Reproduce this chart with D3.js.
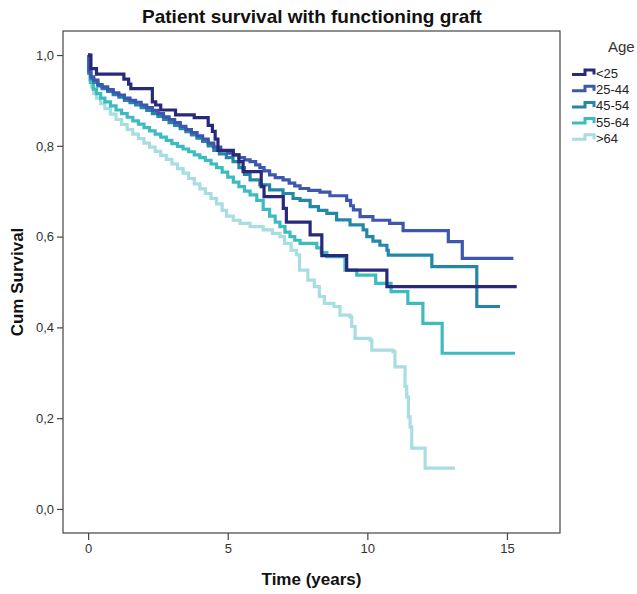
<!DOCTYPE html>
<html>
<head>
<meta charset="utf-8">
<script src="https://cdn.jsdelivr.net/npm/d3@7"></script>
<style>
  html, body { margin: 0; padding: 0; background: #fff; }
  svg { display: block; font-family: "Liberation Sans", Arial, sans-serif; }
</style>
</head>
<body>
<svg id="chart" width="637" height="594"></svg>
<script>
// Kaplan-Meier estimates by age group: [time in years, cumulative survival]
const survivalLt25 = [
  [0, 1.0], [0.1, 0.97], [0.3, 0.958], [1.28, 0.947], [1.45, 0.936], [1.53, 0.926],
  [2.3, 0.897], [2.42, 0.89], [2.6, 0.879], [3.13, 0.868], [3.8, 0.862], [4.3, 0.845],
  [4.45, 0.832], [4.55, 0.815], [4.65, 0.79], [5.2, 0.78], [5.4, 0.765], [5.55, 0.743],
  [6.2, 0.71], [6.3, 0.688], [6.99, 0.662], [7.1, 0.632], [7.95, 0.604], [8.37, 0.558],
  [9.26, 0.526], [10.7, 0.49], [15.35, 0.49]
];
const survival25to44 = [
  [0, 1.0], [0.03, 0.965], [0.1, 0.952], [0.2, 0.945], [0.35, 0.935], [0.5, 0.93], [0.7, 0.924],
  [0.9, 0.917], [1.1, 0.912], [1.3, 0.905], [1.5, 0.9], [1.7, 0.896], [1.9, 0.89], [2.1, 0.884],
  [2.3, 0.878], [2.5, 0.871], [2.7, 0.864], [2.9, 0.858], [3.1, 0.851], [3.3, 0.843], [3.5, 0.836],
  [3.7, 0.829], [3.9, 0.822], [4.1, 0.815], [4.3, 0.806], [4.5, 0.797], [4.75, 0.789], [5.0, 0.784],
  [5.19, 0.78], [5.4, 0.774], [5.6, 0.769], [5.8, 0.765], [6.0, 0.758], [6.15, 0.752], [6.3, 0.745],
  [6.5, 0.736], [6.7, 0.73], [6.98, 0.725], [7.2, 0.718], [7.4, 0.712], [7.59, 0.706], [7.9, 0.702],
  [8.3, 0.698], [8.66, 0.69], [9.26, 0.68], [9.4, 0.668], [9.5, 0.659], [9.74, 0.644], [10.2, 0.636],
  [10.8, 0.629], [11.28, 0.613], [12.9, 0.589], [13.4, 0.552], [15.23, 0.552]
];
const survival45to54 = [
  [0, 1.0], [0.03, 0.96], [0.1, 0.948], [0.2, 0.94], [0.35, 0.932], [0.5, 0.926], [0.7, 0.92],
  [0.9, 0.913], [1.1, 0.907], [1.3, 0.9], [1.5, 0.895], [1.7, 0.89], [1.9, 0.884], [2.1, 0.878],
  [2.3, 0.871], [2.5, 0.865], [2.7, 0.858], [2.9, 0.851], [3.1, 0.845], [3.3, 0.838], [3.5, 0.831],
  [3.7, 0.824], [3.9, 0.817], [4.1, 0.81], [4.3, 0.8], [4.5, 0.79], [4.7, 0.782], [4.95, 0.774],
  [5.19, 0.765], [5.4, 0.752], [5.6, 0.737], [5.8, 0.725], [6.15, 0.714], [6.5, 0.703], [6.98, 0.695],
  [7.34, 0.684], [7.59, 0.68], [7.95, 0.666], [8.25, 0.658], [8.55, 0.651], [8.9, 0.637], [9.38, 0.626],
  [9.85, 0.615], [9.98, 0.6], [10.2, 0.59], [10.45, 0.581], [10.7, 0.57], [10.75, 0.559],
  [12.31, 0.534], [13.92, 0.446], [14.75, 0.446]
];
const survival55to64 = [
  [0, 1.0], [0.02, 0.96], [0.08, 0.94], [0.18, 0.925], [0.3, 0.915], [0.45, 0.905], [0.6, 0.897],
  [0.8, 0.888], [1.0, 0.879], [1.2, 0.871], [1.4, 0.863], [1.6, 0.855], [1.8, 0.848], [2.0, 0.84],
  [2.2, 0.833], [2.4, 0.826], [2.6, 0.819], [2.8, 0.812], [3.0, 0.805], [3.2, 0.799], [3.4, 0.793],
  [3.6, 0.787], [3.8, 0.78], [4.0, 0.774], [4.2, 0.768], [4.4, 0.76], [4.6, 0.752], [4.8, 0.742],
  [5.0, 0.731], [5.2, 0.72], [5.4, 0.71], [5.6, 0.7], [5.8, 0.692], [6.04, 0.68], [6.27, 0.66],
  [6.5, 0.645], [6.7, 0.632], [6.87, 0.622], [7.05, 0.61], [7.23, 0.6], [7.4, 0.592], [7.59, 0.585],
  [8.19, 0.575], [8.35, 0.565], [8.55, 0.556], [9.2, 0.526], [9.62, 0.515], [10.3, 0.497],
  [10.85, 0.479], [11.45, 0.453], [11.99, 0.409], [12.68, 0.343], [15.29, 0.343]
];
const survivalGt64 = [
  [0, 1.0], [0.02, 0.97], [0.06, 0.945], [0.12, 0.93], [0.2, 0.915], [0.3, 0.905], [0.45, 0.893],
  [0.6, 0.882], [0.8, 0.87], [1.0, 0.858], [1.2, 0.847], [1.4, 0.836], [1.6, 0.826], [1.8, 0.816],
  [2.0, 0.806], [2.2, 0.797], [2.4, 0.788], [2.6, 0.779], [2.8, 0.77], [3.0, 0.76], [3.2, 0.75],
  [3.4, 0.74], [3.6, 0.728], [3.8, 0.716], [4.0, 0.705], [4.2, 0.695], [4.4, 0.684], [4.6, 0.672],
  [4.8, 0.658], [4.96, 0.645], [5.2, 0.636], [5.44, 0.629], [5.8, 0.622], [6.27, 0.615], [6.6, 0.607],
  [6.87, 0.6], [7.03, 0.585], [7.27, 0.57], [7.46, 0.56], [7.57, 0.526], [7.87, 0.504], [8.1, 0.49],
  [8.28, 0.468], [8.46, 0.453], [8.8, 0.446], [9.02, 0.427], [9.38, 0.423], [9.44, 0.402],
  [9.56, 0.376], [10.1, 0.372], [10.16, 0.35], [10.92, 0.346], [10.99, 0.313], [11.35, 0.27],
  [11.41, 0.247], [11.47, 0.203], [11.53, 0.181], [11.59, 0.134], [12.07, 0.09], [13.14, 0.09]
];

const groupLabels = ["<25", "25-44", "45-54", "55-64", ">64"];
const groupColors = ["#28297a", "#3d56ae", "#2587a8", "#3dbcbf", "#a8dde2"];
const groupSeries = [survivalLt25, survival25to44, survival45to54, survival55to64, survivalGt64];

const xTicks = [0, 5, 10, 15];
const yTicks = [0, 0.2, 0.4, 0.6, 0.8, 1.0];

const svg = d3.select("#chart");
const plot = { left: 63, right: 560, top: 31, bottom: 533 };

const x = d3.scaleLinear().domain([-0.9, 16.9]).range([plot.left, plot.right]);
const y = d3.scaleLinear().domain([-0.053, 1.053]).range([plot.bottom, plot.top]);

// Title
svg.append("text")
  .attr("x", 312).attr("y", 23)
  .attr("text-anchor", "middle")
  .attr("font-size", 19).attr("font-weight", "bold").attr("fill", "#111")
  .text("Patient survival with functioning graft");

// Axes
const commaFmt = d => d3.format(".1f")(d).replace(".", ",");
const yAxis = svg.append("g")
  .attr("transform", `translate(${plot.left},0)`)
  .call(d3.axisLeft(y).tickValues(yTicks).tickFormat(commaFmt).tickSize(6).tickPadding(3));
const xAxis = svg.append("g")
  .attr("transform", `translate(0,${plot.bottom})`)
  .call(d3.axisBottom(x).tickValues(xTicks).tickSize(7).tickPadding(4));
[yAxis, xAxis].forEach(g => {
  g.select(".domain").remove();
  g.selectAll(".tick line").attr("stroke", "#444").attr("stroke-width", 1.2);
  g.selectAll(".tick text").attr("font-size", 13).attr("fill", "#333")
    .attr("font-family", "'Liberation Sans', Arial, sans-serif");
});

// Axis titles
svg.append("text")
  .attr("transform", `translate(23,${(plot.top + plot.bottom) / 2}) rotate(-90)`)
  .attr("text-anchor", "middle")
  .attr("font-size", 17).attr("font-weight", "bold").attr("fill", "#111")
  .text("Cum Survival");
svg.append("text")
  .attr("x", (plot.left + plot.right) / 2).attr("y", 585)
  .attr("text-anchor", "middle")
  .attr("font-size", 17).attr("font-weight", "bold").attr("fill", "#111")
  .text("Time (years)");

// Survival step curves
const line = d3.line()
  .x(d => x(d[0]))
  .y(d => y(d[1]))
  .curve(d3.curveStepAfter);

const drawOrder = [4, 3, 2, 1, 0];
svg.append("g").selectAll("path")
  .data(drawOrder)
  .join("path")
  .attr("d", i => line(groupSeries[i]))
  .attr("fill", "none")
  .attr("stroke", i => groupColors[i])
  .attr("stroke-width", 3.2)
  .attr("stroke-linejoin", "miter");

// Plot frame
svg.append("rect")
  .attr("x", plot.left).attr("y", plot.top)
  .attr("width", plot.right - plot.left).attr("height", plot.bottom - plot.top)
  .attr("fill", "none").attr("stroke", "#444").attr("stroke-width", 1.2);

// Legend
const legend = svg.append("g");
legend.append("text")
  .attr("x", 608).attr("y", 52)
  .attr("font-size", 15).attr("fill", "#333")
  .text("Age");
const rowY = i => 73 + i * 16.2;
const items = legend.selectAll("g.item")
  .data(groupLabels)
  .join("g").attr("class", "item");
items.append("path")
  .attr("d", (d, i) => {
    const yy = rowY(i);
    return `M572,${yy + 1.5}H585V${yy - 3}H594V${yy + 1.5}`;
  })
  .attr("fill", "none")
  .attr("stroke", (d, i) => groupColors[i])
  .attr("stroke-width", 3);
items.append("text")
  .attr("x", 596).attr("y", (d, i) => rowY(i) + 5)
  .attr("font-size", 13).attr("fill", "#222")
  .text(d => d);
</script>
</body>
</html>
